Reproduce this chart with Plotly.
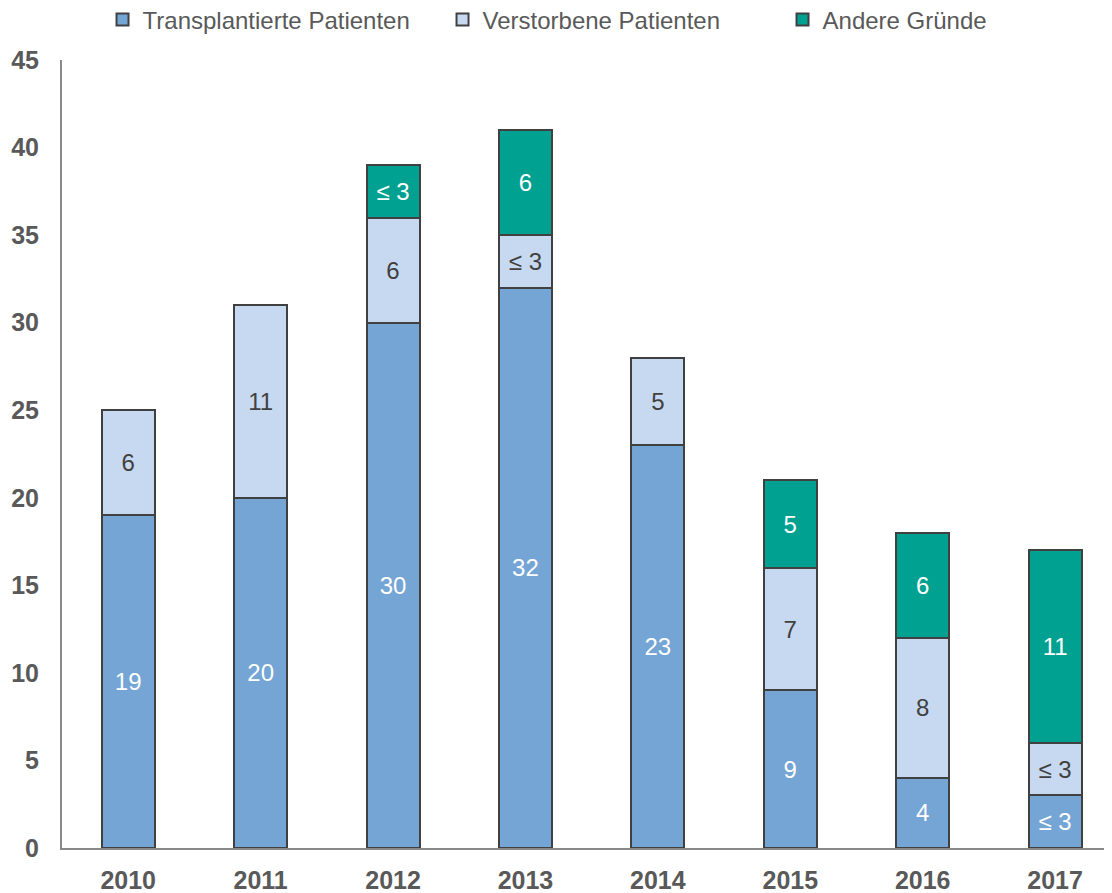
import plotly.graph_objects as go

years = ["2010", "2011", "2012", "2013", "2014", "2015", "2016", "2017"]
transplantiert = [19, 20, 30, 32, 23, 9, 4, 3]
transplantiert_labels = ["19", "20", "30", "32", "23", "9", "4", "≤ 3"]
verstorben = [6, 11, 6, 3, 5, 7, 8, 3]
verstorben_labels = ["6", "11", "6", "≤ 3", "5", "7", "8", "≤ 3"]
andere = [0, 0, 3, 6, 0, 5, 6, 11]
andere_labels = ["", "", "≤ 3", "6", "", "5", "6", "11"]

FONT = "Liberation Sans, Arial, sans-serif"
series = [
    ("Transplantierte Patienten", transplantiert, transplantiert_labels, "#75A5D4", "white"),
    ("Verstorbene Patienten", verstorben, verstorben_labels, "#C7D9F0", "#404040"),
    ("Andere Gründe", andere, andere_labels, "#00A191", "white"),
]

fig = go.Figure()
for name, vals, labels, color, tcolor in series:
    fig.add_trace(go.Bar(
        name=name, x=years, y=vals, text=labels,
        texttemplate="%{text}", textposition="inside", insidetextanchor="middle",
        textangle=0, textfont=dict(size=24, color=tcolor, family=FONT),
        marker=dict(color=color, line=dict(color="#404040", width=2)),
        hoverinfo="skip",
    ))

fig.update_layout(
    barmode="stack", bargap=0.6,
    width=1112, height=893,
    margin=dict(l=54, r=0, t=52, b=53, autoexpand=False),
    plot_bgcolor="white", paper_bgcolor="white",
    font=dict(family=FONT, size=24, color="#595959"),
    uniformtext=dict(minsize=20, mode="show"),
    legend=dict(orientation="h", xref="container", x=0.085, xanchor="left",
                yref="paper", y=1.051, yanchor="middle",
                font=dict(size=24, color="#595959", family=FONT),
                itemwidth=30, entrywidth=295, entrywidthmode="pixels",
                traceorder="normal"),
    showlegend=True,
)
fig.update_xaxes(range=[-0.5, 7.49], showline=True, linecolor="#898989", linewidth=2,
                 tickfont=dict(size=25, color="#595959", family=FONT, weight="bold"),
                 ticks="", ticklabelstandoff=9, showgrid=False, automargin=False)
fig.update_yaxes(range=[0, 45], dtick=5, showline=True, linecolor="#898989", linewidth=2,
                 tickfont=dict(size=25, color="#595959", family=FONT, weight="bold"),
                 ticks="", ticklabelstandoff=16, showgrid=False, zeroline=False,
                 automargin=False)

fig.write_html("out.html")
